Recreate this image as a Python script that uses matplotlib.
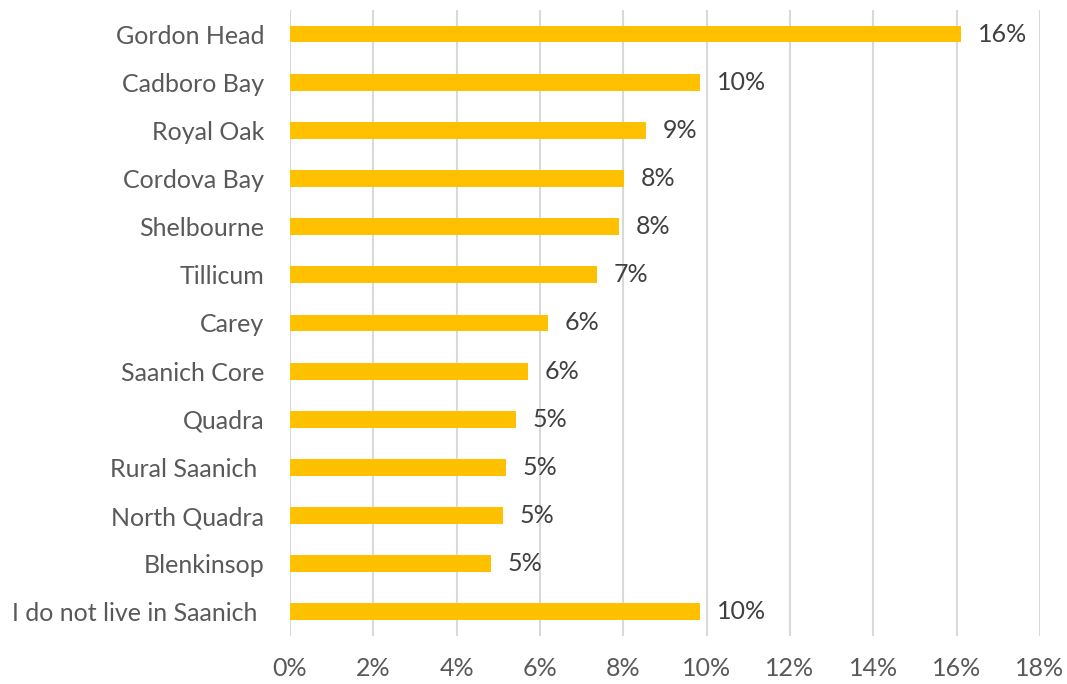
import matplotlib
matplotlib.use("Agg")
import matplotlib.pyplot as plt
from matplotlib.ticker import FuncFormatter, MultipleLocator

categories = ["Gordon Head", "Cadboro Bay", "Royal Oak", "Cordova Bay", "Shelbourne",
              "Tillicum", "Carey", "Saanich Core", "Quadra", "Rural Saanich ",
              "North Quadra", "Blenkinsop", "I do not live in Saanich "]
values = [16.1, 9.84, 8.54, 8.02, 7.9, 7.37, 6.19, 5.71, 5.42, 5.18, 5.11, 4.82, 9.84]
labels = ["16%", "10%", "9%", "8%", "8%", "7%", "6%", "6%", "5%", "5%", "5%", "5%", "10%"]

plt.rcParams['font.family'] = ['Lato', 'DejaVu Sans']

fig = plt.figure(figsize=(10.67, 6.84), dpi=100)
ax = fig.add_axes([0.2718, 0.0702, 0.7029, 0.9152])

ypos = list(range(len(categories)))
ax.barh(ypos, values, height=0.35, color="#FFC000", zorder=3)
ax.set_ylim(len(categories) - 0.5, -0.5)
ax.set_yticks(ypos)
ax.set_yticklabels(categories)
ax.set_xlim(0, 18)
ax.xaxis.set_major_locator(MultipleLocator(2))
ax.xaxis.set_major_formatter(FuncFormatter(lambda v, p: f"{v:.0f}%"))
ax.grid(axis="x", color="#D9D9D9", linewidth=1.5, zorder=0)
for s in ax.spines.values():
    s.set_visible(False)
ax.tick_params(axis="both", length=0, labelsize=18, colors="#595959")
ax.tick_params(axis="y", pad=18.7)
ax.tick_params(axis="x", pad=15)

for y, v, t in zip(ypos, values, labels):
    ax.annotate(t, xy=(v, y), xytext=(12, 0), textcoords="offset points",
                va="center", ha="left", fontsize=18, color="#404040")

fig.savefig("out.png", dpi=100)
